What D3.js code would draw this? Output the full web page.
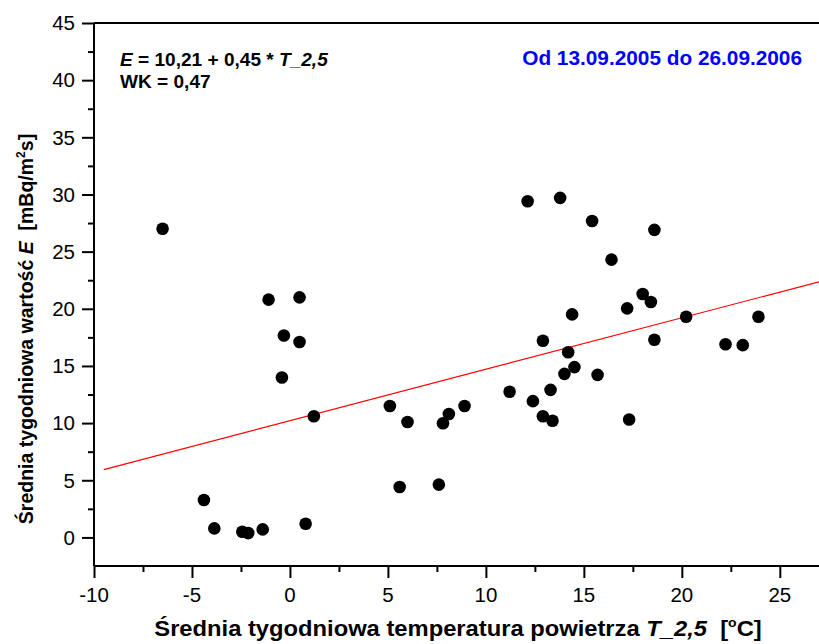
<!DOCTYPE html>
<html><head><meta charset="utf-8">
<script src="https://cdn.jsdelivr.net/npm/d3@7"></script>
<style>body{margin:0;background:#fff}svg{display:block;font-family:"Liberation Sans",Arial,sans-serif}text{white-space:pre}</style>
</head><body><svg id="c" width="819" height="644"></svg>
<script>
const temperature = [-6.5,-4.39,-3.86,-2.43,-2.13,-1.39,0.8,-1.09,0.49,-0.31,0.49,-0.41,1.22,
 12.13,13.79,15.42,18.6,16.41,18.0,18.42,17.21,14.4,20.22,23.91,18.6,12.91,22.23,23.11,14.2,14.52,14.01,15.7,13.3,11.21,12.4,5.1,8.91,8.11,6.0,7.81,12.91,13.4,17.31,5.6,7.6];
const activity = [27.0,3.28,0.79,0.5,0.38,0.7,1.2,20.8,21.0,17.67,17.09,13.99,10.6,
 29.41,29.7,27.68,26.9,24.3,21.3,20.59,20.04,19.51,19.31,19.31,17.29,17.2,16.9,16.82,16.2,14.9,14.31,14.22,12.91,12.74,11.92,11.5,11.5,10.8,10.1,9.99,10.6,10.2,10.31,4.41,4.62];
const fitIntercept = 10.21, fitSlope = 0.45;
const fitRange = [-9.5, 27];
const xTicks = [-10,-5,0,5,10,15,20,25];
const yTicks = [0,5,10,15,20,25,30,35,40,45];

const svg = d3.select("#c");
const L=94, R=819, T=23, B=566;
const x = d3.scaleLinear().domain([-10,27]).range([L,R]);
const y = d3.scaleLinear().domain([-2.5,45]).range([B,T]);

svg.append("line").attr("x1",L).attr("x2",R).attr("y1",T).attr("y2",T).attr("stroke","#000").attr("stroke-width",2);

svg.append("line")
 .attr("x1",x(fitRange[0])).attr("y1",y(fitIntercept+fitSlope*fitRange[0]))
 .attr("x2",x(fitRange[1])).attr("y2",y(fitIntercept+fitSlope*fitRange[1]))
 .attr("stroke","#ff0000").attr("stroke-width",1.2);

svg.append("g").selectAll("circle").data(temperature).join("circle")
 .attr("cx",(d)=>x(d)).attr("cy",(d,i)=>y(activity[i])).attr("r",6.3).attr("fill","#000");

const xMinor = d3.range(-10,27.01,2.5);
const yMinor = d3.range(0,45.01,2.5);
const isMajor = v => Math.abs(v/5 - Math.round(v/5))<1e-6;

const gx = svg.append("g").attr("transform",`translate(0,${B})`);
gx.call(d3.axisBottom(x).tickValues(xMinor).tickSize(6).tickFormat(""));
gx.selectAll(".tick line").attr("stroke-width",2).attr("y2",d=>isMajor(d)?12:6);
gx.select(".domain").attr("stroke-width",2).attr("d",`M${L},0H${R}`);
gx.selectAll(".lbl").data(xTicks).join("text").attr("class","lbl")
 .attr("x",d=>x(d)).attr("y",36).attr("text-anchor","middle").attr("font-size",20.5).attr("fill","#000").text(d=>d);

const gy = svg.append("g").attr("transform",`translate(${L},0)`);
gy.call(d3.axisLeft(y).tickValues(yMinor).tickSize(6).tickFormat(""));
gy.selectAll(".tick line").attr("stroke-width",2).attr("x2",d=>isMajor(d)?-12:-6);
gy.select(".domain").attr("stroke-width",2).attr("d",`M0,${B}V${T}`);
gy.selectAll(".lbl").data(yTicks).join("text").attr("class","lbl")
 .attr("x",-19).attr("y",d=>y(d)+7.3).attr("text-anchor","end").attr("font-size",20.5).attr("fill","#000").text(d=>d);

const xt = svg.append("text").attr("transform","translate(458,636) scale(1.08,1)").attr("text-anchor","middle")
 .attr("font-size",22).attr("font-weight","bold").attr("fill","#000");
xt.append("tspan").text("Średnia tygodniowa temperatura powietrza ");
xt.append("tspan").attr("font-style","italic").text("T_2,5");
xt.append("tspan").text("  [");
xt.append("tspan").attr("font-size",13).attr("dy",-9).text("o");
xt.append("tspan").attr("dy",9).text("C]");

const yt = svg.append("text").attr("transform","translate(33,329) rotate(-90)").attr("text-anchor","middle")
 .attr("font-size",19.5).attr("font-weight","bold").attr("fill","#000");
yt.append("tspan").text("Średnia tygodniowa wartość ");
yt.append("tspan").attr("font-style","italic").text("E");
yt.append("tspan").text("  [mBq/m");
yt.append("tspan").attr("font-size",12).attr("dy",-8).text("2");
yt.append("tspan").attr("dy",8).text("s]");

const a1 = svg.append("text").attr("transform","translate(120,66) scale(1.06,1)").attr("font-size",18).attr("font-weight","bold").attr("fill","#000");
a1.append("tspan").attr("font-style","italic").text("E");
a1.append("tspan").text(" = 10,21 + 0,45 * ");
a1.append("tspan").attr("font-style","italic").text("T_2,5");
svg.append("text").attr("transform","translate(120,88) scale(1.06,1)").attr("font-size",18).attr("font-weight","bold").attr("fill","#000").text("WK = 0,47");
svg.append("text").attr("x",802).attr("y",65).attr("text-anchor","end").attr("font-size",20.8).attr("font-weight","bold").attr("fill","#0000ff").text("Od 13.09.2005 do 26.09.2006");
</script></body></html>
